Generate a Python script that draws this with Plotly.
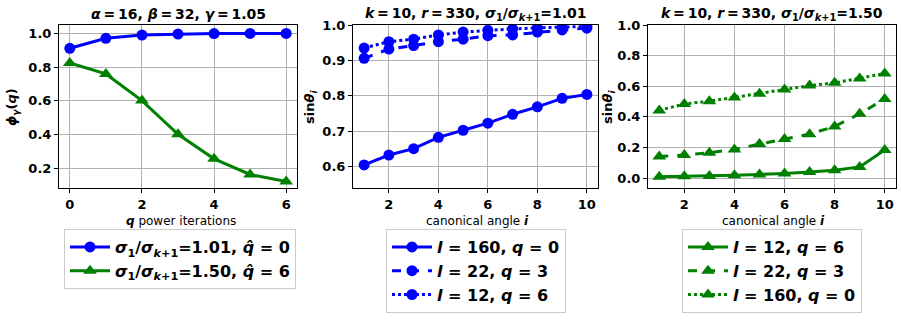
import plotly.graph_objects as go

# ---- data ----
q_iters = [0, 1, 2, 3, 4, 5, 6]
phi_101 = [0.911, 0.970, 0.989, 0.995, 0.998, 0.999, 0.999]
phi_150 = [0.824, 0.759, 0.601, 0.401, 0.256, 0.163, 0.121]

angles = [1, 2, 3, 4, 5, 6, 7, 8, 9, 10]
mid_l160_q0 = [0.605, 0.633, 0.651, 0.683, 0.703, 0.723, 0.748, 0.769, 0.793, 0.804]
mid_l22_q3 = [0.906, 0.932, 0.942, 0.953, 0.960, 0.970, 0.972, 0.980, 0.986, 0.991]
mid_l12_q6 = [0.935, 0.953, 0.960, 0.972, 0.980, 0.985, 0.989, 0.992, 0.994, 0.996]

right_l12_q6 = [0.008, 0.011, 0.013, 0.018, 0.024, 0.029, 0.039, 0.051, 0.073, 0.183]
right_l22_q3 = [0.140, 0.150, 0.165, 0.187, 0.222, 0.255, 0.287, 0.337, 0.420, 0.517]
right_l160_q0 = [0.442, 0.484, 0.502, 0.527, 0.550, 0.578, 0.604, 0.622, 0.651, 0.683]

BLUE = "#0000ff"
GREEN = "#008000"
FONT = "DejaVu Sans"
W, H = 901, 322
T = "\u2009"  # thin space

fig = go.Figure()

# left panel
fig.add_trace(go.Scatter(x=q_iters, y=phi_101, mode="lines+markers",
                         line=dict(color=BLUE, width=3), marker=dict(symbol="circle", size=11, color=BLUE),
                         name="<b><i>σ</i><sub>1</sub>/<i>σ</i><sub><i>k</i>+1</sub>=1.01, <i>q̂</i> = 0</b>",
                         xaxis="x", yaxis="y", legend="legend"))
fig.add_trace(go.Scatter(x=q_iters, y=phi_150, mode="lines+markers",
                         line=dict(color=GREEN, width=3), marker=dict(symbol="triangle-up", size=12, color=GREEN),
                         name="<b><i>σ</i><sub>1</sub>/<i>σ</i><sub><i>k</i>+1</sub>=1.50, <i>q̂</i> = 6</b>",
                         xaxis="x", yaxis="y", legend="legend"))

# middle panel
for ys, dash, lab in [(mid_l160_q0, "solid", "<b><i>l</i> = 160, <i>q</i> = 0</b>"),
                      (mid_l22_q3, "dash", "<b><i>l</i> = 22, <i>q</i> = 3</b>"),
                      (mid_l12_q6, "dot", "<b><i>l</i> = 12, <i>q</i> = 6</b>")]:
    fig.add_trace(go.Scatter(x=angles, y=ys, mode="lines+markers",
                             line=dict(color=BLUE, width=3, dash=dash),
                             marker=dict(symbol="circle", size=11, color=BLUE),
                             name=lab, xaxis="x2", yaxis="y2", legend="legend2"))

# right panel
for ys, dash, lab in [(right_l12_q6, "solid", "<b><i>l</i> = 12, <i>q</i> = 6</b>"),
                      (right_l22_q3, "dash", "<b><i>l</i> = 22, <i>q</i> = 3</b>"),
                      (right_l160_q0, "dot", "<b><i>l</i> = 160, <i>q</i> = 0</b>")]:
    fig.add_trace(go.Scatter(x=angles, y=ys, mode="lines+markers",
                             line=dict(color=GREEN, width=3, dash=dash),
                             marker=dict(symbol="triangle-up", size=12, color=GREEN),
                             name=lab, xaxis="x3", yaxis="y3", legend="legend3"))

ydom = [1 - 188 / H, 1 - 25 / H]
tickfont = dict(family=FONT, size=13, color="black", weight="bold")
axcommon = dict(showline=True, mirror=True, linecolor="black", linewidth=1,
                showgrid=True, gridcolor="#b0b0b0", gridwidth=1, zeroline=False,
                ticks="outside", ticklen=4, tickcolor="black", tickfont=tickfont,
                automargin=False)

legcommon = dict(bgcolor="white", bordercolor="#cccccc", borderwidth=1,
                 font=dict(family=FONT, size=16, color="black"),
                 xanchor="center", yanchor="top", y=1 - 229 / H, itemwidth=40)

x1d = [59 / W, 297 / W]
x2d = [353 / W, 598 / W]
x3d = [648 / W, 896 / W]

fig.update_layout(
    width=W, height=H, margin=dict(l=0, r=0, t=0, b=0, autoexpand=False),
    paper_bgcolor="white", plot_bgcolor="white",
    xaxis=dict(domain=x1d, range=[-0.3, 6.3], tickvals=[0, 2, 4, 6], anchor="y", **axcommon),
    yaxis=dict(domain=ydom, range=[0.083, 1.049], tickvals=[0.2, 0.4, 0.6, 0.8, 1.0], tickformat=".1f",
               anchor="x", **axcommon),
    xaxis2=dict(domain=x2d, range=[0.55, 10.45], tickvals=[2, 4, 6, 8, 10], anchor="y2", **axcommon),
    yaxis2=dict(domain=ydom, range=[0.54, 1.0], tickvals=[0.6, 0.7, 0.8, 0.9, 1.0], tickformat=".1f",
                anchor="x2", **axcommon),
    xaxis3=dict(domain=x3d, range=[0.55, 10.45], tickvals=[2, 4, 6, 8, 10], anchor="y3", **axcommon),
    yaxis3=dict(domain=ydom, range=[-0.065, 1.0], tickvals=[0.0, 0.2, 0.4, 0.6, 0.8, 1.0], tickformat=".1f",
                anchor="x3", **axcommon),
    legend=dict(x=180 / W, **legcommon),
    legend2=dict(x=476 / W, **legcommon),
    legend3=dict(x=772 / W, **legcommon),
)

def ann(text, xpx, ypx, size, angle=0):
    fig.add_annotation(text=text, x=xpx / W, y=1 - ypx / H, xref="paper", yref="paper",
                       showarrow=False, xanchor="center", yanchor="middle", textangle=angle,
                       font=dict(family=FONT, size=size, color="black"))

# titles
ann(f"<b><i>α</i>{T}={T}16, <i>β</i>{T}={T}32, <i>γ</i>{T}={T}1.05</b>", (59 + 297) / 2, 14, 14)
ann(f"<b><i>k</i>{T}={T}10, <i>r</i>{T}={T}330, <i>σ</i><sub>1</sub>/<i>σ</i><sub><i>k</i>+1</sub>=1.01</b>",
    (353 + 598) / 2, 14, 14)
ann(f"<b><i>k</i>{T}={T}10, <i>r</i>{T}={T}330, <i>σ</i><sub>1</sub>/<i>σ</i><sub><i>k</i>+1</sub>=1.50</b>",
    (648 + 896) / 2, 14, 14)
# x-axis titles
ann("<b><i>q</i></b> power iterations", 181, 221, 12)
ann("canonical angle <b><i>i</i></b>", 477, 221, 12)
ann("canonical angle <b><i>i</i></b>", 773, 221, 12)
# y-axis titles
ann("<b><i>ϕ<sub>γ</sub></i>(<i>q</i>)</b>", 12, 107, 13, -90)
ann("<b>sin<i>θ<sub>i</sub></i></b>", 310, 107, 13, -90)
ann("<b>sin<i>θ<sub>i</sub></i></b>", 608, 107, 13, -90)

fig.write_html("out.html", config={"displayModeBar": False},
               post_script="document.body.style.margin='0';document.body.style.overflow='hidden';")
